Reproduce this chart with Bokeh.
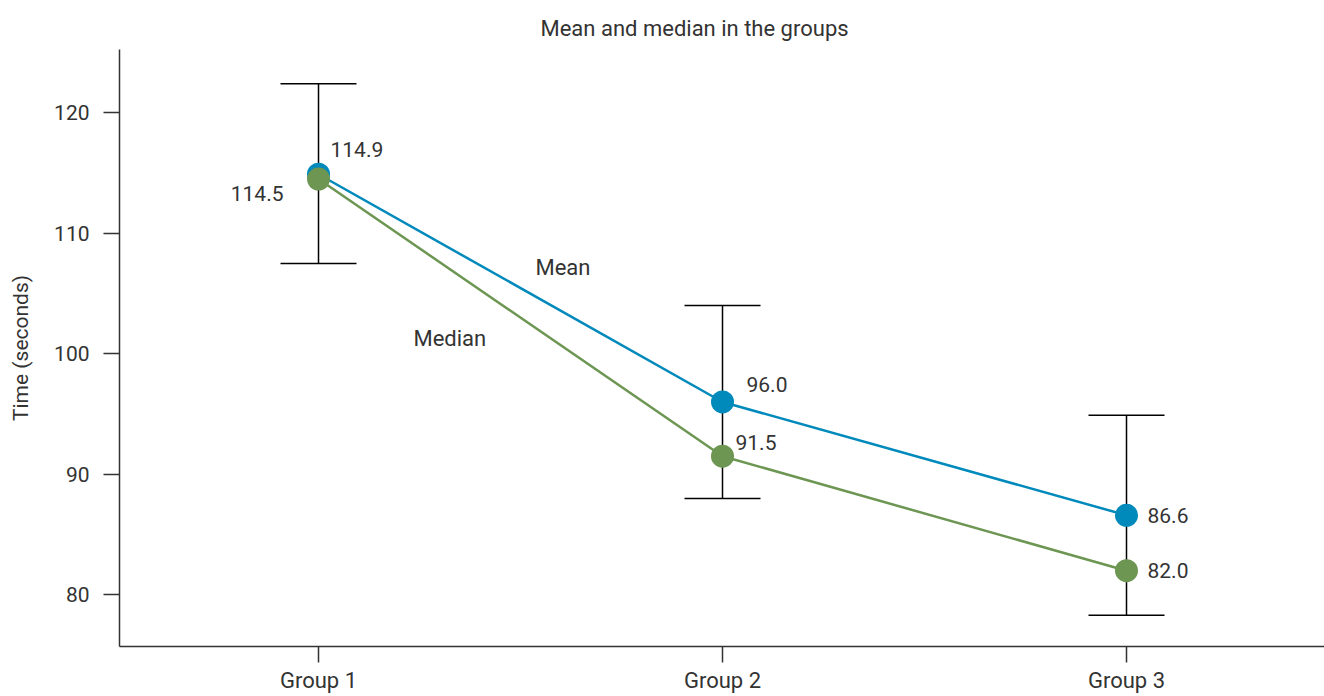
from bokeh.plotting import figure
from bokeh.models import ColumnDataSource, Whisker, TeeHead, FixedTicker, Range1d
from bokeh.embed import file_html
from bokeh.resources import INLINE
from bokeh.core.properties import value

# ---- data ----
groups = ["Group 1", "Group 2", "Group 3"]
group_pos = [1, 2, 3]
mean_vals = [114.9, 96.0, 86.6]
median_vals = [114.5, 91.5, 82.0]
err_lower = [107.5, 88.0, 78.3]
err_upper = [122.4, 104.0, 94.9]
y_ticks = [80, 90, 100, 110, 120]
title_text = "Mean and median in the groups"
y_title = "Time (seconds)"
series_names = ["Mean", "Median"]

# ---- label placement (styles/positions, not data) ----
series_label_x = [1.537, 1.235]
series_label_y = [107.2, 101.3]
mean_dx = [12, 24, 21]
mean_dy = [-25, -17, 0]
mean_align = ["left", "left", "left"]
median_dx = [-35, 13, 21]
median_dy = [14, -14, 0]
median_align = ["right", "left", "left"]

BLUE = "#0089bb"
GREEN = "#6d9653"
TXT = "#333333"
FONT = "Roboto"
FS = "21px"
FS_WORD = "22px"

p = figure(width=1324, height=696, output_backend="svg", toolbar_location=None,
           x_range=Range1d(0.5074, 3.4901), y_range=Range1d(75.71, 125.25),
           min_border_left=119, min_border_right=0, min_border_top=49,
           min_border_bottom=50)
p.outline_line_color = None
p.xgrid.visible = False
p.ygrid.visible = False
p.background_fill_color = "white"

p.title.text = title_text
p.title.text_font = FONT
p.title.text_font_size = FS_WORD
p.title.text_font_style = "normal"
p.title.text_color = TXT
p.title.align = "left"
p.title.offset = 421
p.title.standoff = 17

for ax in (p.xaxis[0], p.yaxis[0]):
    ax.axis_line_color = TXT
    ax.axis_line_width = 1.5
    ax.major_tick_line_color = TXT
    ax.major_tick_line_width = 1.5
    ax.major_tick_in = 0
    ax.minor_tick_line_color = None
    ax.major_label_text_font = FONT
    ax.major_label_text_color = TXT

p.xaxis.ticker = FixedTicker(ticks=group_pos)
p.xaxis.major_label_overrides = {pos: g for pos, g in zip(group_pos, groups)}
p.xaxis.major_tick_out = 16
p.xaxis.major_label_standoff = 5
p.xaxis.major_label_text_font_size = FS_WORD

p.yaxis.ticker = FixedTicker(ticks=y_ticks)
p.yaxis.major_tick_out = 16
p.yaxis.major_label_standoff = 14
p.yaxis.major_label_text_font_size = FS
p.yaxis.axis_label = y_title
p.yaxis.axis_label_text_font = FONT
p.yaxis.axis_label_text_font_size = FS
p.yaxis.axis_label_text_font_style = "normal"
p.yaxis.axis_label_text_color = TXT
p.yaxis.axis_label_standoff = 18

err_src = ColumnDataSource(dict(x=group_pos, lower=err_lower, upper=err_upper))
wh = Whisker(base="x", lower="lower", upper="upper", source=err_src,
             line_color="black", line_width=1.5, level="underlay",
             upper_head=TeeHead(size=76, line_color="black", line_width=1.5),
             lower_head=TeeHead(size=76, line_color="black", line_width=1.5))
p.add_layout(wh)

p.line(group_pos, mean_vals, line_color=BLUE, line_width=2.5)
p.line(group_pos, median_vals, line_color=GREEN, line_width=2.5)
p.scatter(group_pos, mean_vals, size=23, fill_color=BLUE, line_color=None)
p.scatter(group_pos, median_vals, size=23, fill_color=GREEN, line_color=None)

mean_src = ColumnDataSource(dict(x=group_pos, y=mean_vals,
                                 t=[f"{v:.1f}" for v in mean_vals],
                                 dx=mean_dx, dy=mean_dy, al=mean_align))
median_src = ColumnDataSource(dict(x=group_pos, y=median_vals,
                                   t=[f"{v:.1f}" for v in median_vals],
                                   dx=median_dx, dy=median_dy, al=median_align))
for src in (mean_src, median_src):
    p.text(x="x", y="y", text="t", x_offset="dx", y_offset="dy", text_align="al",
           text_baseline="middle", text_font=value(FONT), text_font_size=FS,
           text_color=TXT, source=src)

p.text(x=series_label_x, y=series_label_y, text=series_names, text_align="left",
       text_baseline="middle", text_font=value(FONT), text_font_size=FS_WORD,
       text_color=TXT)

open("out.html", "w").write(file_html(p, INLINE))
